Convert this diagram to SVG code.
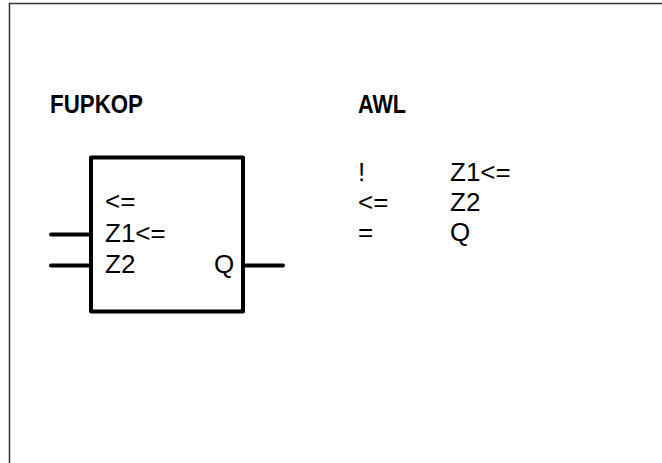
<svg xmlns="http://www.w3.org/2000/svg" width="662" height="463" viewBox="0 0 662 463">
<style>
.t{font-family:"Liberation Sans",Arial,sans-serif;font-size:26px;fill:#000}
.h{font-family:"Liberation Sans",Arial,sans-serif;font-size:25px;font-weight:bold;fill:#000}
.w{stroke:#000;stroke-width:4;stroke-linecap:round;fill:none}
</style>
<rect x="0" y="0" width="662" height="463" fill="#fff"/>
<rect id="frame" x="9.5" y="3.5" width="660" height="470" fill="none" stroke="#333" stroke-width="1.5"/>
<text class="h" x="50" y="113" textLength="93" lengthAdjust="spacingAndGlyphs">FUPKOP</text>
<text class="h" x="358" y="113" textLength="48" lengthAdjust="spacingAndGlyphs">AWL</text>
<g id="block">
<rect x="91" y="157.5" width="152" height="154" fill="#fff" stroke="#000" stroke-width="4" stroke-linejoin="round"/>
<text class="t" x="105" y="210">&lt;=</text>
<text class="t" x="105" y="241.5">Z1&lt;=</text>
<text class="t" x="105" y="272.5">Z2</text>
<text class="t" x="214" y="272.5">Q</text>
</g>
<g id="connectors">
<line class="w" x1="51" y1="234.5" x2="91" y2="234.5"/>
<line class="w" x1="51" y1="265.5" x2="91" y2="265.5"/>
<line class="w" x1="243" y1="265.5" x2="283" y2="265.5"/>
</g>
<g id="awl">
<text class="t" x="358" y="181">!</text>
<text class="t" x="450" y="181">Z1&lt;=</text>
<text class="t" x="358" y="210.5">&lt;=</text>
<text class="t" x="450" y="210.5">Z2</text>
<text class="t" x="358" y="241">=</text>
<text class="t" x="450" y="241">Q</text>
</g>
</svg>
